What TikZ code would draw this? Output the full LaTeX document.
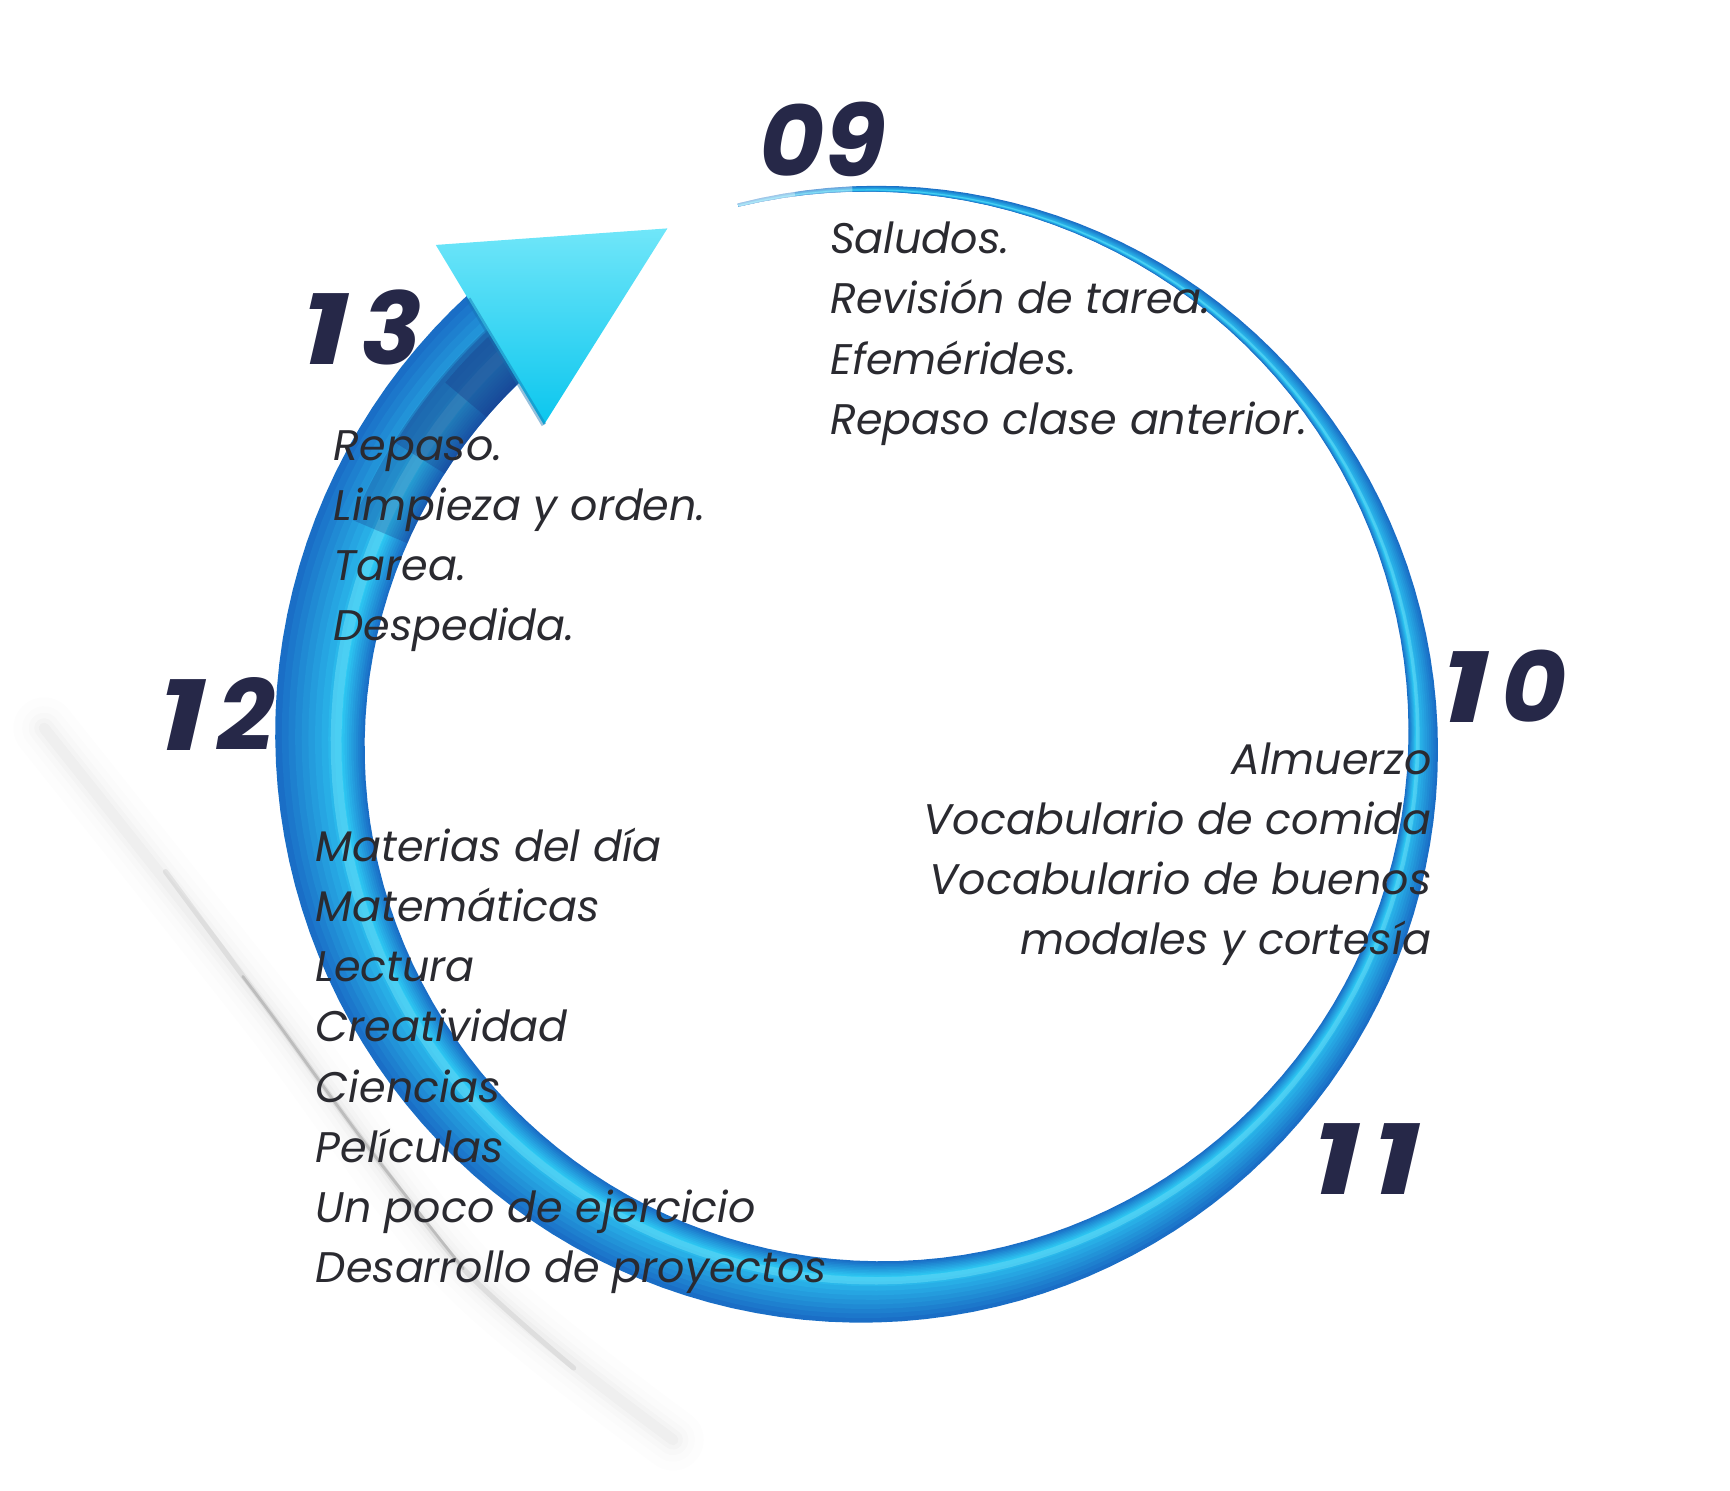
\documentclass[tikz,border=0pt]{standalone}
\usepackage{fontspec}
\usepackage{graphicx}
\setmainfont{Poppins}
\usetikzlibrary{calc}
\definecolor{numc}{HTML}{262848}
\definecolor{txtc}{HTML}{2A2A30}
\definecolor{ringA}{HTML}{1A6EC6}
\definecolor{ringD}{HTML}{2ECAF4}
\definecolor{ringE}{HTML}{6ADEF7}
\definecolor{ringN}{HTML}{183C8A}
\definecolor{headA}{HTML}{70E6F9}
\definecolor{headB}{HTML}{0BC6EE}
\newcommand\numone{\scalebox{1.3}[1]{1}\kern6pt}
\newcommand\myband[5]{%
  \fill[#3] plot[domain=#4:#5,samples=140,variable=\t]
    ({790+(500+#2*wd(\t))*cos(\t)},{671+(500+#2*wd(\t))*sin(\t)})
  -- plot[domain=#5:#4,samples=140,variable=\t]
    ({790+(500+#1*wd(\t))*cos(\t)},{671+(500+#1*wd(\t))*sin(\t)}) -- cycle;}
\begin{document}
\begin{tikzpicture}[x=0.55166pt,y=-0.55166pt,
  declare function={fr(\t)=(\t+104)/332; wd(\t)=3+87*(0.45*0.5*(1-cos(180*fr(\t)))+0.55*fr(\t));},
  num/.style={font=\fontsize{50}{50}\selectfont\bfseries\itshape, text=numc, inner sep=0pt, anchor=base west},
  item/.style={font=\fontsize{21.4}{30.07}\selectfont\itshape, text=txtc, inner sep=0pt},
  shadowline/.style={draw=black, line cap=round}
]
\useasboundingbox (0,0) rectangle (1568.1,1351.4);
% soft shadow of the ring
\coordinate (s1) at (40,660);
\coordinate (s2) at (250,925);
\coordinate (s3) at (420,1150);
\coordinate (s4) at (610,1305);
\foreach \w/\o in {56/0.006,40/0.008,28/0.011,18/0.015,10/0.02}{
  \draw[shadowline, line width=\w*0.55pt, opacity=\o] plot[smooth] coordinates {(s1) (s2) (s3) (s4)};
}
\draw[shadowline, line width=2.6pt, opacity=0.07] plot[smooth] coordinates {(150,790) (250,925) (330,1035) (420,1150) (520,1240)};
\draw[shadowline, line width=1.4pt, opacity=0.15] plot[smooth] coordinates {(220,885) (250,925) (330,1035) (420,1150)};
% tapered ring, built from nested bands for a soft tube shading
\foreach \k in {0,...,10}{
  \pgfmathsetmacro\lo{-0.5+\k*0.025}
  \pgfmathsetmacro\hi{0.5-\k*0.074}
  \pgfmathtruncatemacro\p{\k*10}
  \myband{\lo}{\hi}{fill=ringD!\p!ringA}{-104}{228}
}
\myband{-0.24}{-0.12}{fill=ringE,opacity=0.5}{-104}{228}
% darkening of the shaft under the head
\myband{-0.5}{0.12}{fill=ringN,opacity=0.3}{203}{228}
\myband{-0.5}{0.1}{fill=ringN,opacity=0.35}{212}{228}
\myband{-0.5}{0.05}{fill=ringN,opacity=0.4}{220}{228}
% fading tail
\myband{-0.6}{0.6}{fill=white,opacity=0.35}{-104}{-92}
\myband{-0.6}{0.6}{fill=white,opacity=0.35}{-104}{-98}
% arrow head
\coordinate (h1) at (395,222);
\coordinate (h2) at (605,207);
\coordinate (h3) at (493,385);
\shade[top color=headA, bottom color=headB] (h1) -- (h2) -- (h3) -- cycle;
\draw[ringN!60!headB, line width=2.5pt, opacity=0.45] ($(h1)!0.3!(h3)$) -- (h3);
% numbers
\node[num] (n09) at (688,160) {09};
\node[num] (n13) at (272,330) {\numone 3};
\node[num] (n12) at (142,680) {\numone 2};
\node[num] (n10) at (1305,655) {\numone 0};
\node[num] (n11) at (1188,1083) {\numone\numone};
% texts (anchored at the baseline of their last line)
\node[item, align=left, anchor=base west] (t09) at (752,393.5)
  {Saludos.\\Revisión de tarea.\\Efemérides.\\Repaso clase anterior.};
\node[item, align=left, anchor=base west] (t13) at (302,580.5)
  {Repaso.\\Limpieza y orden.\\Tarea.\\Despedida.};
\node[item, align=right, anchor=base east] (t10) at (1298,865.5)
  {Almuerzo\\Vocabulario de comida\\Vocabulario de buenos\\modales y cortesía};
\node[item, align=left, anchor=base west] (t12) at (286,1162.5)
  {Materias del día\\Matemáticas\\Lectura\\Creatividad\\Ciencias\\Películas\\Un poco de ejercicio\\Desarrollo de proyectos};
\end{tikzpicture}
\end{document}
